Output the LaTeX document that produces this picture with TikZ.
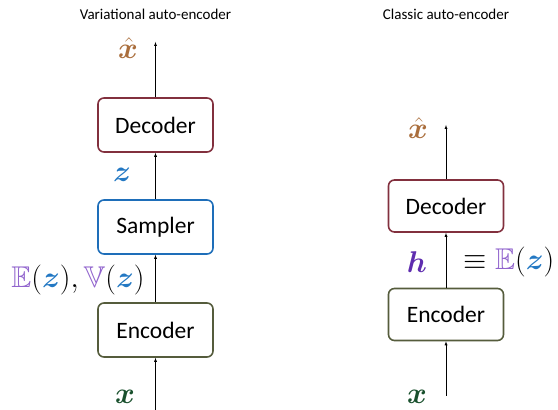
\RequirePackage{fix-cm}
\documentclass[tikz,border=0pt]{standalone}
\DeclareFontFamily{U}{msb}{}
\DeclareFontShape{U}{msb}{m}{n}{<-> msbm10}{}
\usepackage{amsmath,amssymb,bm}
\usepackage{fontspec}
\setmainfont{Carlito}
\usepackage{tikz}
\usetikzlibrary{arrows}

\definecolor{decred}{RGB}{130,48,62}
\definecolor{sampblue}{RGB}{30,110,185}
\definecolor{encolive}{RGB}{85,92,60}
\definecolor{xhatbrown}{RGB}{170,110,60}
\definecolor{zblue}{RGB}{35,120,195}
\definecolor{hpurple}{RGB}{95,45,175}
\definecolor{epurple}{RGB}{145,100,205}
\definecolor{xgreen}{RGB}{25,80,45}

\tikzset{
	block/.style={draw,rounded corners=6pt,line width=1.6pt,minimum width=115pt,
		minimum height=54pt,font=\fontsize{23.5}{28}\selectfont},
	title/.style={font=\fontsize{15}{18}\selectfont},
	sym/.style={font=\fontsize{30}{34}\selectfont},
	flow/.style={thin,-latex}
}

\begin{document}
\begin{tikzpicture}[x=1pt,y=1pt]
		\useasboundingbox (0,0) rectangle (558,410);
%		\draw[help lines,step=10] (0,0) grid (558,410);
		% variational auto-encoder
		\path (155.5,368) coordinate (vae_top);
		\path (155.5,0) coordinate (vae_bot);
		\node[title] (vae_title) at (155.5,396) {Variational auto-encoder};
		\node[block,draw=decred] (vae_dec) at (155.5,285) {Decoder};
		\node[block,draw=sampblue] (vae_samp) at (155.5,183) {Sampler};
		\node[block,draw=encolive] (vae_enc) at (155.5,80) {Encoder};
		\node[sym] (vae_xhat) at (128,362) {$\color{xhatbrown}\hat{\bm{x}}$};
		\node[sym] (vae_z) at (122,235) {$\color{zblue}\bm{z}$};
		\node[sym] (vae_ev) at (78,130)
			{$\color{epurple}\mathbb{E}\color{black}(\color{zblue}\bm{z}\color{black}),
			\color{epurple}\mathbb{V}\color{black}(\color{zblue}\bm{z}\color{black})$};
		\node[sym] (vae_x) at (125,13) {$\color{xgreen}\bm{x}$};
		\draw[flow] (vae_bot) -- (vae_enc);
		\draw[flow] (vae_enc) -- (vae_samp);
		\draw[flow] (vae_samp) -- (vae_dec);
		\draw[flow] (vae_dec) -- (vae_top);

		% classic auto-encoder
		\path (446,285) coordinate (ae_top);
		\path (446,14) coordinate (ae_bot);
		\node[title] (ae_title) at (446,396) {Classic auto-encoder};
		\node[block,draw=decred,minimum height=52pt] (ae_dec) at (446,204) {Decoder};
		\node[block,draw=encolive,minimum height=52pt] (ae_enc) at (446,95.5) {Encoder};
		\node[sym] (ae_xhat) at (418,282) {$\color{xhatbrown}\hat{\bm{x}}$};
		\node[sym] (ae_h) at (417,148) {$\color{hpurple}\bm{h}$};
		\node[sym,anchor=west] (ae_eq) at (460,148)
			{$\equiv\color{epurple}\mathbb{E}\color{black}(\color{zblue}\bm{z}\color{black})$};
		\node[sym] (ae_x) at (417,13) {$\color{xgreen}\bm{x}$};
		\draw[flow] (ae_bot) -- (ae_enc);
		\draw[flow] (ae_enc) -- (ae_dec);
		\draw[flow] (ae_dec) -- (ae_top);
	\end{tikzpicture}
\end{document}
